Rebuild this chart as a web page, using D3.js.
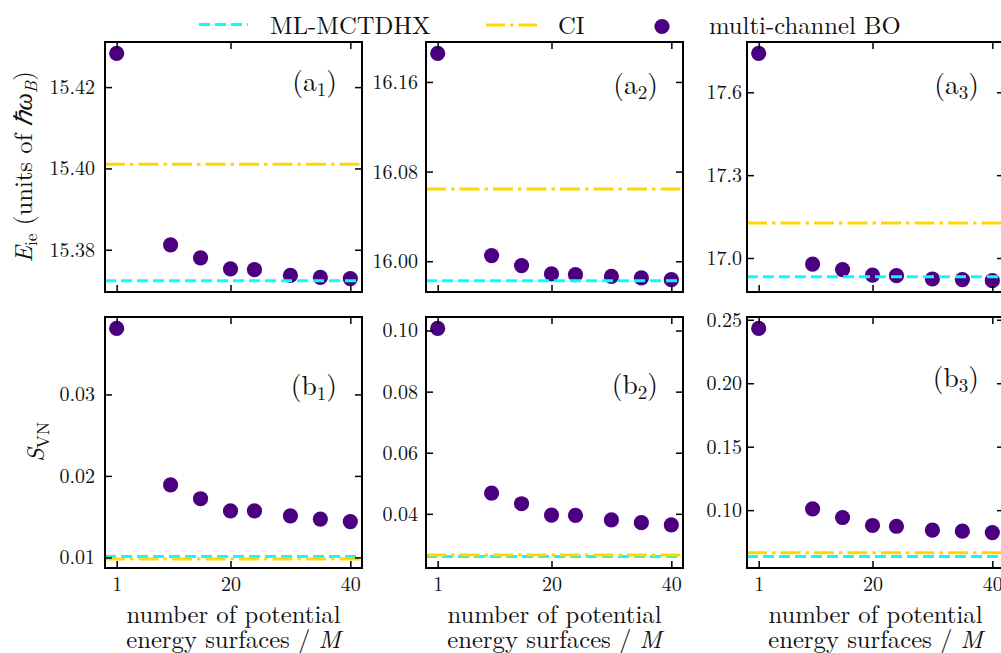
<!DOCTYPE html>
<html><head><meta charset="utf-8">
<script src="https://cdn.jsdelivr.net/npm/d3@7"></script>
<style>
body{margin:0;background:#fff;}
svg{display:block;}
svg text{font-family:"Latin Modern Roman","CMU Serif",serif !important;}
</style></head>
<body><svg id="chart" width="1001" height="653"></svg>
<script>
// ---------- data ----------
const M = [1, 10, 15, 20, 24, 30, 35, 40];
const xTicks = [1, 20, 40];

const boA1 = [15.4283, 15.3812, 15.3780, 15.3753, 15.3751, 15.3737, 15.3732, 15.3729];
const mlA1 = 15.3724, ciA1 = 15.4010;
const ticksA1 = [15.38, 15.40, 15.42];

const boA2 = [16.1855, 16.0051, 15.9961, 15.9887, 15.9880, 15.9865, 15.9851, 15.9836];
const mlA2 = 15.9827, ciA2 = 16.0644;
const ticksA2 = [16.00, 16.08, 16.16];

const boA3 = [17.741, 16.978, 16.958, 16.938, 16.936, 16.924, 16.922, 16.918];
const mlA3 = 16.932, ciA3 = 17.127;
const ticksA3 = [17.0, 17.3, 17.6];

const boB1 = [0.0381, 0.0189, 0.0172, 0.0157, 0.0157, 0.0151, 0.0147, 0.0144];
const mlB1 = 0.0101, ciB1 = 0.0098;
const ticksB1 = [0.01, 0.02, 0.03];

const boB2 = [0.1007, 0.0468, 0.0433, 0.0396, 0.0395, 0.0380, 0.0371, 0.0364];
const mlB2 = 0.0260, ciB2 = 0.0265;
const ticksB2 = [0.04, 0.06, 0.08, 0.10];

const boB3 = [0.2432, 0.1010, 0.0942, 0.0879, 0.0873, 0.0842, 0.0834, 0.0823];
const mlB3 = 0.0634, ciB3 = 0.0665;
const ticksB3 = [0.10, 0.15, 0.20, 0.25];

const panelNames = [["a","1"],["a","2"],["a","3"],["b","1"],["b","2"],["b","3"]];
const legendLabels = ["ML-MCTDHX", "CI", "multi-channel BO"];

// ---------- style / layout ----------
const FONT = "Latin Modern Roman";
const TXT = "#111";
const C_ML = "#00ffff", C_CI = "#ffd700", C_BO = "#4b0082";
const colX = [105, 426, 747], rowY = [42, 317];
const PW = 257, PH = [250, 251];
const yPadCol = [10, 8, 5];
const panels = [
  {bo: boA1, ml: mlA1, ci: ciA1, ticks: ticksA1, fmt: ".2f", row: 0, col: 0, lblY: 91},
  {bo: boA2, ml: mlA2, ci: ciA2, ticks: ticksA2, fmt: ".2f", row: 0, col: 1, lblY: 94},
  {bo: boA3, ml: mlA3, ci: ciA3, ticks: ticksA3, fmt: ".1f", row: 0, col: 2, lblY: 94},
  {bo: boB1, ml: mlB1, ci: ciB1, ticks: ticksB1, fmt: ".2f", row: 1, col: 0, lblY: 395},
  {bo: boB2, ml: mlB2, ci: ciB2, ticks: ticksB2, fmt: ".2f", row: 1, col: 1, lblY: 394},
  {bo: boB3, ml: mlB3, ci: ciB3, ticks: ticksB3, fmt: ".2f", row: 1, col: 2, lblY: 387},
];

const svg = d3.select("#chart");
const TICK = 7;
const DASH_ML = "11,5", DASH_CI = "20,5,3.5,5";

function txt(sel) { return sel.style("font-family", FONT).attr("fill", TXT); }

panels.forEach((p, i) => {
  const x0 = colX[p.col], y0 = rowY[p.row], h = PH[p.row];
  const g = svg.append("g").attr("transform", `translate(${x0},${y0})`);
  const xPad = 0.05 * (d3.max(M) - d3.min(M));
  const x = d3.scaleLinear().domain([d3.min(M) - xPad, d3.max(M) + xPad]).range([0, PW]);
  const ext = d3.extent(p.bo.concat([p.ml]));
  const yPad = 0.05 * (ext[1] - ext[0]);
  const y = d3.scaleLinear().domain([ext[0] - yPad, ext[1] + yPad]).range([h, 0]);

  const clip = "clip" + i;
  g.append("clipPath").attr("id", clip).append("rect").attr("width", PW).attr("height", h);
  const plot = g.append("g").attr("clip-path", `url(#${clip})`);

  // points (drawn below the reference lines, as in the original)
  plot.selectAll("circle").data(M.map((m, k) => [m, p.bo[k]])).join("circle")
    .attr("cx", d => x(d[0])).attr("cy", d => y(d[1])).attr("r", 7.6).attr("fill", C_BO);

  // reference lines
  const xd = x.domain();
  const line = d3.line().x(d => x(d[0])).y(d => y(d[1]));
  plot.append("path").datum([[xd[0], p.ml], [xd[1], p.ml]]).attr("d", line)
    .attr("stroke", C_ML).attr("stroke-width", 3).attr("fill", "none").attr("stroke-dasharray", DASH_ML);
  plot.append("path").datum([[xd[0], p.ci], [xd[1], p.ci]]).attr("d", line)
    .attr("stroke", C_CI).attr("stroke-width", 3).attr("fill", "none").attr("stroke-dasharray", DASH_CI);

  // axes
  const fmt = d3.format(p.fmt);
  const axB = g.append("g").attr("transform", `translate(0,${h})`)
    .call(d3.axisBottom(x).tickValues(xTicks).tickSizeInner(-TICK).tickSizeOuter(0).tickPadding(9)
      .tickFormat(p.row === 1 ? d3.format("d") : () => ""));
  const axT = g.append("g").call(d3.axisTop(x).tickValues(xTicks).tickSizeInner(-TICK).tickSizeOuter(0).tickFormat(() => ""));
  const axL = g.append("g").call(d3.axisLeft(y).tickValues(p.ticks).tickSizeInner(-TICK).tickSizeOuter(0)
      .tickPadding(yPadCol[p.col]).tickFormat(fmt));
  const axR = g.append("g").attr("transform", `translate(${PW},0)`)
    .call(d3.axisRight(y).tickValues(p.ticks).tickSizeInner(-TICK).tickSizeOuter(0).tickFormat(() => ""));
  [axB, axT, axL, axR].forEach(a => {
    a.attr("font-family", null);
    a.select(".domain").remove();
    a.selectAll(".tick line").attr("stroke", "#000").attr("stroke-width", 1.5);
    txt(a.selectAll(".tick text")).attr("font-size", 20);
  });
  // frame
  g.append("rect").attr("width", PW).attr("height", h).attr("fill", "none").attr("stroke", "#000").attr("stroke-width", 2);

  // panel label
  const t = txt(svg.append("text")).attr("x", x0 + PW - 25).attr("y", p.lblY).attr("text-anchor", "end")
    .attr("font-size", 27.5);
  t.append("tspan").text("(" + panelNames[i][0]);
  t.append("tspan").attr("font-size", 19).attr("dy", 4.5).text(panelNames[i][1]);
  t.append("tspan").attr("dy", -4.5).text(")");

  // x label
  if (p.row === 1) {
    const cx = x0 + PW / 2;
    txt(svg.append("text")).attr("x", cx).attr("y", 623).attr("text-anchor", "middle").attr("font-size", 24.7)
      .text("number of potential");
    const t2 = txt(svg.append("text")).attr("x", cx).attr("y", 648).attr("text-anchor", "middle").attr("font-size", 24.7);
    t2.append("tspan").text("energy surfaces / ");
    t2.append("tspan").attr("font-style", "italic").text("M");
  }
});

// y labels
{
  const t = txt(svg.append("text")).attr("transform", `translate(32,${42 + 125}) rotate(-90)`)
    .attr("text-anchor", "middle").attr("font-size", 24.7);
  t.append("tspan").attr("font-style", "italic").text("E");
  t.append("tspan").attr("font-size", 17.5).attr("dy", 4.5).text("ie");
  t.append("tspan").attr("dy", -4.5).text(" (units of ");
  t.append("tspan").attr("font-style", "italic").text("ℏω");
  t.append("tspan").attr("font-size", 17.5).attr("dy", 4.5).attr("font-style", "italic").text("B");
  t.append("tspan").attr("dy", -4.5).text(")");

  const s = txt(svg.append("text")).attr("transform", `translate(44,${317 + 125}) rotate(-90)`)
    .attr("text-anchor", "middle").attr("font-size", 24.7);
  s.append("tspan").attr("font-style", "italic").text("S");
  s.append("tspan").attr("font-size", 17.5).attr("dy", 4.5).text("VN");
}

// legend
{
  const lg = svg.append("g");
  lg.append("line").attr("x1", 199).attr("x2", 248).attr("y1", 24.5).attr("y2", 24.5)
    .attr("stroke", C_ML).attr("stroke-width", 3).attr("stroke-dasharray", DASH_ML);
  txt(lg.append("text")).attr("x", 270).attr("y", 33.5).attr("font-size", 24.7).text(legendLabels[0]);
  lg.append("line").attr("x1", 486).attr("x2", 537).attr("y1", 25).attr("y2", 25)
    .attr("stroke", C_CI).attr("stroke-width", 3).attr("stroke-dasharray", "19,5,3.5,5");
  txt(lg.append("text")).attr("x", 558).attr("y", 33.5).attr("font-size", 24.7).text(legendLabels[1]);
  lg.append("circle").attr("cx", 662).attr("cy", 26.5).attr("r", 7.6).attr("fill", C_BO);
  txt(lg.append("text")).attr("x", 709).attr("y", 33.5).attr("font-size", 24.7).text(legendLabels[2]);
}
</script></body></html>
